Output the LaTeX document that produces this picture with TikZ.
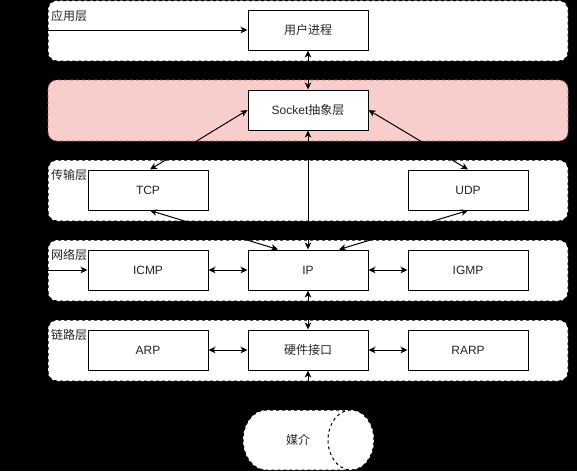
\documentclass[tikz,border=0pt]{standalone}
\usepackage{fontspec}
\setmainfont{Liberation Sans}
\newfontfamily\cjk{Noto Sans CJK SC}
\usetikzlibrary{arrows.meta}
\definecolor{pinkfill}{HTML}{F8CECC}
\definecolor{pinkline}{HTML}{B85450}
\definecolor{txt}{HTML}{262626}
\begin{document}
\begin{tikzpicture}[x=1pt,y=-1pt,
  tip/.tip={Stealth[length=7pt,width=6.5pt,inset=2pt]},
  layer/.style={draw=black, line width=1pt, dash pattern=on 3pt off 3pt, fill=white, rounded corners=9pt},
  socklayer/.style={draw=pinkline, line width=0.8pt, dash pattern=on 3pt off 3pt, fill=pinkfill, rounded corners=9pt},
  box/.style={draw=black, fill=white, line width=1pt, minimum width=120pt, minimum height=40pt, inner sep=0pt, text=txt, font=\fontsize{12pt}{14pt}\selectfont},
  lbl/.style={anchor=west, inner sep=0pt, text=txt, font=\fontsize{12pt}{14pt}\selectfont\cjk},
  conn/.style={line width=1pt, tip-tip},
  oneway/.style={line width=1pt, -tip},
]
\useasboundingbox (0,0) rectangle (577,471);
\fill[black] (0,0) rectangle (577,471);

% layer containers
\draw[layer] (48,0.5) rectangle (568,61);
\draw[socklayer] (48,80) rectangle (568,141);
\draw[layer] (48,160) rectangle (568,221);
\draw[layer] (48,240) rectangle (568,301);
\draw[layer] (48,320) rectangle (568,381);

\node[lbl] (lapp) at (51,16) {应用层};
\node[lbl] (ltrans) at (51,175) {传输层};
\node[lbl] (lnet) at (51,255) {网络层};
\node[lbl] (llink) at (51,335) {链路层};

% boxes
\node[box] (user) at (308,30) {\cjk 用户进程};
\node[box] (sock) at (308,110) {Socket{\cjk 抽象层}};
\node[box] (tcp) at (148,190) {TCP};
\node[box] (udp) at (468,190) {UDP};
\node[box] (icmp) at (148,270) {ICMP};
\node[box] (ip) at (308,270) {IP};
\node[box] (igmp) at (468,270) {IGMP};
\node[box] (arp) at (148,350) {ARP};
\node[box] (hw) at (308,350) {\cjk 硬件接口};
\node[box] (rarp) at (468,350) {RARP};

% medium (horizontal cylinder)
\path[fill=white] (351,410) -- (266,410) .. controls (253.3,410) and (243,423.4) .. (243,440)
  .. controls (243,456.6) and (253.3,470) .. (266,470) -- (351,470) -- cycle;
\draw[line width=1pt, dash pattern=on 3pt off 3pt] (351,410) -- (266,410) .. controls (253.3,410) and (243,423.4) .. (243,440)
  .. controls (243,456.6) and (253.3,470) .. (266,470) -- (351,470);
\draw[line width=1pt, dash pattern=on 3pt off 3pt, fill=white] (351,440) ellipse [x radius=23pt, y radius=30pt];
\node[inner sep=0pt, text=txt, font=\fontsize{12pt}{14pt}\selectfont\cjk] (med) at (298,440) {媒介};
\coordinate (medtop) at (308,410);

% external inputs
\coordinate (inA) at (0,30);
\coordinate (inB) at (0,270);

% connectors
\draw[oneway] (inA) -- (user.west);
\draw[oneway] (inB) -- (icmp.west);
\draw[conn] (user.south) -- (sock.north);
\draw[conn] (sock.west) -- ([xshift=2pt]tcp.north);
\draw[conn] (sock.east) -- (udp.north);
\draw[conn] (sock.south) -- (ip.north);
\draw[conn] ([xshift=2pt]tcp.south) -- ([xshift=-30pt]ip.north);
\draw[conn] (udp.south) -- ([xshift=31pt]ip.north);
\draw[conn] (icmp.east) -- (ip.west);
\draw[conn] (ip.east) -- (igmp.west);
\draw[conn] (ip.south) -- (hw.north);
\draw[conn] (arp.east) -- (hw.west);
\draw[conn] (hw.east) -- (rarp.west);
\draw[oneway] (medtop) -- (hw.south);
\end{tikzpicture}
\end{document}
